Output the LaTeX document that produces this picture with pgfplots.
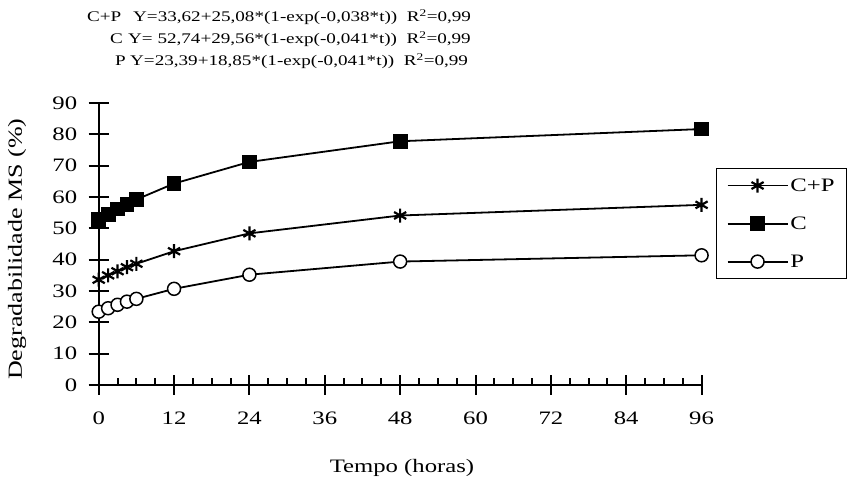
\documentclass[border=0pt]{standalone}
\usepackage{fontspec}
\setmainfont{Liberation Serif}[FakeStretch=1.3]
\usepackage{pgfplots}
\pgfplotsset{compat=1.18}

\begin{document}
\begin{tikzpicture}
\begin{axis}[
    x=6.28pt, y=3.133pt,
    xmin=0, xmax=96, ymin=0, ymax=90,
    axis x line*=bottom, axis y line*=left,
    axis line style={-, line width=2pt},
    clip=false,
    xtick={0,12,...,96},
    ytick={0,10,...,90},
    tick align=center,
    major tick length=20pt,
    major tick style={draw=none},
    /pgf/number format/assume math mode=true,
    tick label style={font=\fontsize{19}{22}\selectfont},
    xticklabel style={yshift=-13pt},
    yticklabel style={xshift=-8pt},
    xlabel={Tempo (horas)},
    ylabel={Degradabilidade MS (\%)},
    xlabel style={font=\fontsize{19}{22}\selectfont, at={(rel axis cs:0.503,-0.294)}, anchor=center},
    ylabel style={font=\fontsize{20}{22}\selectfont, at={(rel axis cs:-0.1354,0.482)}, anchor=center},
    legend style={at={(rel axis cs:1.024,0.77)}, anchor=north west, draw=black, line width=1.2pt,
        font=\fontsize{19}{22}\selectfont, row sep=20pt, inner xsep=10pt, inner ysep=8pt},
    legend cell align=left,
    legend image code/.code={\draw[mark repeat=2,mark phase=2,#1] plot coordinates {(0pt,0pt) (30pt,0pt) (60pt,0pt)};},
]
\addplot[black, line width=1.8pt, mark=asterisk, mark size=7pt, mark options={line width=2.2pt}] coordinates {
(0,33.6)(1.5,35.0)(3,36.3)(4.5,37.6)(6,38.7)(12,42.7)(24,48.4)(48,54.1)(96,57.5)
};
\addlegendentry{C+P}
\addplot[black, line width=1.8pt, mark=square*, mark size=6.5pt, mark options={fill=black}] coordinates {
(0,52.7)(1.5,54.5)(3,56.2)(4.5,57.7)(6,59.2)(12,64.3)(24,71.2)(48,77.8)(96,81.7)
};
\addlegendentry{C}
\addplot[black, line width=1.8pt, mark=*, mark size=6.5pt, mark options={fill=white, line width=1.5pt}] coordinates {
(0,23.4)(1.5,24.5)(3,25.6)(4.5,26.6)(6,27.5)(12,30.7)(24,35.2)(48,39.4)(96,41.4)
};
\addlegendentry{P}
\coordinate (O) at (axis cs:0,0);
\end{axis}
% tick marks, in axis units
\begin{scope}[shift={(O)}, x=6.28pt, y=3.133pt, line width=2pt]
\foreach \v in {0,10,...,90} \draw (0,\v) ++(-10pt,0) -- ++(20pt,0);
\foreach \t in {0,12,...,96} \draw (\t,0) ++(0,-10pt) -- ++(0,20pt);
\foreach \t in {3,6,9,15,18,21,27,30,33,39,42,45,51,54,57,63,66,69,75,78,81,87,90,93}
    \draw (\t,0) -- ++(0,7pt);
\end{scope}
\begin{scope}[shift={(O)}, xshift=-98.7pt, yshift=385pt, x=1pt, y=-1pt,
    every node/.style={inner sep=0pt, anchor=base west, font=\fontsize{14.7}{17}\selectfont}]
\node at (87,22) {C+P};
\node at (133,22) {Y=33,62+25,08*(1-exp(-0,038*t))\ \ R\textsuperscript{2}=0,99};
\node at (110,44) {C};
\node at (128,44) {Y= 52,74+29,56*(1-exp(-0,041*t))\ \ R\textsuperscript{2}=0,99};
\node at (115,66) {P};
\node at (130,66) {Y=23,39+18,85*(1-exp(-0,041*t))\ \ R\textsuperscript{2}=0,99};
\end{scope}
\pgfresetboundingbox
\path ([shift={(-98.7pt,385pt)}]O) rectangle ([shift={(748.3pt,-97pt)}]O);
\end{tikzpicture}
\end{document}
